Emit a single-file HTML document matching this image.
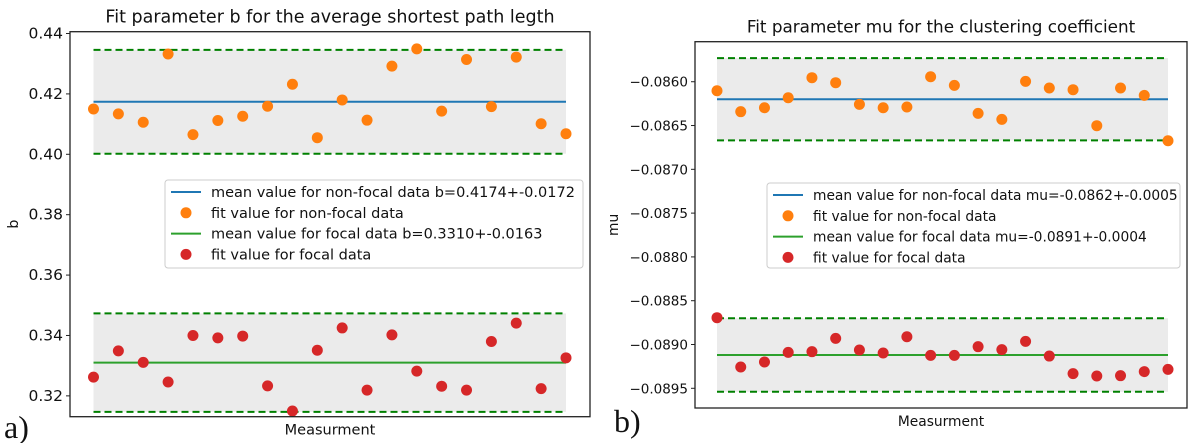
<!DOCTYPE html>
<html><head><meta charset="utf-8"><style>
body{margin:0;background:#fff;}
svg{display:block;font-family:"DejaVu Sans","Liberation Sans",sans-serif;}
</style></head><body>
<svg id="c" width="1195" height="443"></svg>
<script>
const orangeA=[0.4150,0.4134,0.4106,0.4332,0.4065,0.4112,0.4126,0.4159,0.4232,0.4055,0.4180,0.4113,0.4292,0.4349,0.4143,0.4314,0.4158,0.4322,0.4101,0.4068];
const redA=[0.3262,0.3349,0.3311,0.3246,0.3400,0.3392,0.3398,0.3233,0.3150,0.3351,0.3425,0.3219,0.3402,0.3282,0.3232,0.3219,0.3380,0.3441,0.3224,0.3326];
const meanA=[0.4174,0.3310];
const stdA=[0.0172,0.0163];
const ticksA=[0.32,0.34,0.36,0.38,0.40,0.42,0.44];
const tickLabelsA=["0.32","0.34","0.36","0.38","0.40","0.42","0.44"];
const orangeB=[-0.086103,-0.086342,-0.086297,-0.086183,-0.085954,-0.086011,-0.086259,-0.086297,-0.086289,-0.085943,-0.086042,-0.086361,-0.086430,-0.085996,-0.086072,-0.086091,-0.086502,-0.086072,-0.086156,-0.086674];
const redB=[-0.088694,-0.089257,-0.089200,-0.089090,-0.089082,-0.088930,-0.089063,-0.089097,-0.088911,-0.089124,-0.089124,-0.089025,-0.089059,-0.088964,-0.089132,-0.089333,-0.089360,-0.089356,-0.089310,-0.089284];
const meanB=[-0.08620,-0.08912];
const stdB=[0.00047,0.00042];
const ticksB=[-0.0895,-0.0890,-0.0885,-0.0880,-0.0875,-0.0870,-0.0865,-0.0860];
const tickLabelsB=["\u22120.0895","\u22120.0890","\u22120.0885","\u22120.0880","\u22120.0875","\u22120.0870","\u22120.0865","\u22120.0860"];

const NS="http://www.w3.org/2000/svg";
const svg=document.getElementById('c');
function mk(t,a,p){const e=document.createElementNS(NS,t);for(const k in a)e.setAttribute(k,a[k]);(p||svg).appendChild(e);return e;}

function panel(cfg){
  const g=mk('g',{});
  
  
  const y=v=>cfg.y1+(cfg.vmax-v)/(cfg.vmax-cfg.vmin)*(cfg.y2-cfg.y1);
  const n=cfg.orange.length;
  const x=i=>cfg.px0+i*(cfg.px1-cfg.px0)/(n-1);
  for(let k=0;k<2;k++){
    const lo=cfg.mean[k]-cfg.std[k], hi=cfg.mean[k]+cfg.std[k];
    const b=mk('rect',{x:x(0),y:y(hi),width:x(n-1)-x(0),height:y(lo)-y(hi),fill:'#ebebeb'},g);
    
    
  }
  for(let k=0;k<2;k++){
    [cfg.mean[k]-cfg.std[k],cfg.mean[k]+cfg.std[k]].forEach(v=>{
      const l=mk('line',{x1:x(0),x2:x(n-1),y1:y(v),y2:y(v),stroke:'#008000','stroke-width':2,'stroke-dasharray':'7,4'},g);
      
      
    });
  }
  const cols=['#1f77b4','#2ca02c'];
  for(let k=0;k<2;k++){
    const l=mk('line',{x1:x(0),x2:x(n-1),y1:y(cfg.mean[k]),y2:y(cfg.mean[k]),stroke:cols[k],'stroke-width':2},g);
    
    
  }
  cfg.orange.forEach((v,i)=>{
    const c=mk('circle',{cx:x(i),cy:y(v),r:5.5,fill:'#ff7f0e'},g);
    
    
  });
  cfg.red.forEach((v,i)=>{
    const c=mk('circle',{cx:x(i),cy:y(v),r:5.5,fill:'#d62728'},g);
    
    
  });
  const fr=mk('rect',{x:cfg.x1,y:cfg.y1,width:cfg.x2-cfg.x1,height:cfg.y2-cfg.y1,fill:'none',stroke:'#222','stroke-width':1.3},g);
  
  
  cfg.ticks.forEach((v,i)=>{
    mk('line',{x1:cfg.x1-4,x2:cfg.x1,y1:y(v),y2:y(v),stroke:'#222','stroke-width':1},g);
    const t=mk('text',{x:cfg.x1-7,y:y(v)+5,'text-anchor':'end','font-size':cfg.tfs,fill:'#111'},g);
    t.textContent=cfg.tickLabels[i];
    
    
  });
  const ti=mk('text',{x:(cfg.x1+cfg.x2)/2,y:cfg.y1-9,'text-anchor':'middle','font-size':cfg.titfs,fill:'#111'},g);
  ti.textContent=cfg.title;
  
  
  const xl=mk('text',{x:(cfg.x1+cfg.x2)/2,y:cfg.y2+18,'text-anchor':'middle','font-size':cfg.lfs,fill:'#111'},g);
  xl.textContent='Measurment';
  
  
  const yl=mk('text',{x:0,y:0,'text-anchor':'middle','font-size':cfg.lfs,fill:'#111',transform:`translate(${cfg.ylx},${(cfg.y1+cfg.y2)/2}) rotate(-90)`},g);
  yl.textContent=cfg.ylabel;
  
  
  const pl=mk('text',{x:cfg.plx,y:cfg.ply,'font-size':32,'font-family':'"Liberation Serif",serif',fill:'#111'},g);
  pl.textContent=cfg.panelLabel;
  
  
  const L=cfg.leg;
  const lg=mk('g',{},g);
  
  
  mk('rect',{x:L.x,y:L.y,width:L.w,height:L.h,rx:3,fill:'#fff','fill-opacity':0.85,stroke:'#ccc'},lg);
  cfg.legText.forEach((s,i)=>{
    const ry=L.y+12+i*20.8;
    if(i%2==0) mk('line',{x1:L.x+6,x2:L.x+36,y1:ry,y2:ry,stroke:i?'#2ca02c':'#1f77b4','stroke-width':2},lg);
    else mk('circle',{cx:L.x+21,cy:ry,r:5.5,fill:i==1?'#ff7f0e':'#d62728'},lg);
    const t=mk('text',{x:L.x+46,y:ry+5,'font-size':cfg.lfs,fill:'#111'},lg);
    t.textContent=s;
    
    
  });
}
panel({name:'chart-a',x1:70,x2:590,y1:31.7,y2:416.7,vmax:0.4406,vmin:0.3131,px0:93.5,px1:566,
  tfs:15.5,titfs:17.5,lfs:14.5,
  orange:orangeA,red:redA,mean:meanA,std:stdA,ticks:ticksA,tickLabels:tickLabelsA,
  title:'Fit parameter b for the average shortest path legth',ylabel:'b',ylx:18,plx:4,ply:438,panelLabel:'a)',
  leg:{x:165,y:180,w:418,h:88},
  legText:['mean value for non-focal data b=0.4174+-0.0172','fit value for non-focal data','mean value for focal data b=0.3310+-0.0163','fit value for focal data']});
panel({name:'chart-b',x1:695,x2:1187,y1:41.7,y2:408,vmax:-0.085543,vmin:-0.089725,px0:717,px1:1168,
  tfs:13.5,titfs:16.8,lfs:13.8,
  orange:orangeB,red:redB,mean:meanB,std:stdB,ticks:ticksB,tickLabels:tickLabelsB,
  title:'Fit parameter mu for the clustering coefficient',ylabel:'mu',ylx:618,plx:614,ply:432,panelLabel:'b)',
  leg:{x:767,y:183,w:413,h:85},
  legText:['mean value for non-focal data mu=-0.0862+-0.0005','fit value for non-focal data','mean value for focal data mu=-0.0891+-0.0004','fit value for focal data']});
</script>
</body></html>
